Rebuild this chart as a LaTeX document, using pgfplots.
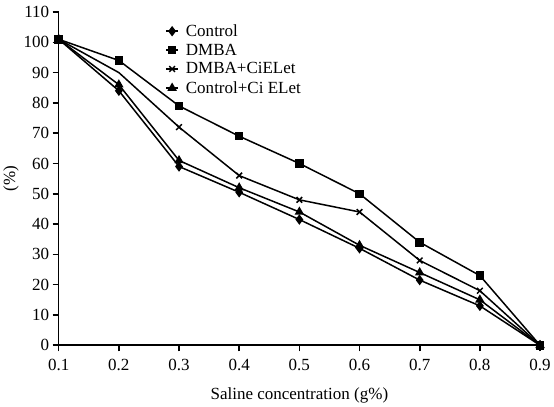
\documentclass[border=0pt]{standalone}
\usepackage{pgfplots}
\pgfplotsset{compat=1.18}
\usepackage{fontspec}
\setmainfont{Liberation Serif}
\begin{document}
\begin{tikzpicture}
\begin{axis}[
  scale only axis,
  width=481pt, height=333pt,
  xmin=0.1, xmax=0.9, ymin=0, ymax=110,
  xtick={0.1,0.2,...,0.9},
  ytick={0,10,...,110},
  xticklabel style={yshift=-4pt, /pgf/number format/fixed, /pgf/number format/fixed zerofill, /pgf/number format/precision=1},
  /pgf/number format/assume math mode=true,
  axis lines=left,
  axis line style={line width=1.6pt,-},
  tick style={line width=1.6pt,black},
  tick align=outside,
  major tick length=6pt,
  clip=false,
  font=\fontsize{17}{20}\selectfont,
  tick label style={font=\fontsize{17}{20}\selectfont},
  xlabel={Saline concentration (g\%)},
  ylabel={(\%)},
  xlabel style={font=\fontsize{17}{20}\selectfont, yshift=-10pt},
  ylabel style={font=\fontsize{17}{20}\selectfont, yshift=-2pt},
  every axis plot/.append style={line width=1.5pt, black},
  legend style={draw=none, fill=none, at={(0.215,0.975)}, anchor=north west,
    font=\fontsize{17}{20}\selectfont, row sep=2pt, column sep=5pt},
  legend cell align=left,
  legend image code/.code={\draw[line width=1.5pt] (-6pt,0pt)--(6pt,0pt); \draw[#1] plot coordinates {(0pt,0pt)};},
]
\addplot[mark=diamond*, mark size=4pt] coordinates {
(0.1,101) (0.2,84) (0.3,59) (0.4,50.5) (0.5,41.5) (0.6,32) (0.7,21.5) (0.8,13) (0.9,0)};
\addlegendentry{Control}
\addplot[mark=square*, mark size=3.5pt] coordinates {
(0.1,101) (0.2,94) (0.3,79) (0.4,69) (0.5,60) (0.6,50) (0.7,34) (0.8,23) (0.9,0)};
\addlegendentry{DMBA}
\addplot[mark=x, mark size=4pt, mark options={line width=1.5pt}, mark indices={1,3,4,5,6,7,8,9}] coordinates {
(0.1,101) (0.2,90) (0.3,72) (0.4,56) (0.5,48) (0.6,44) (0.7,28) (0.8,18) (0.9,0)};
\addlegendentry{DMBA+CiELet}
\addplot[mark=triangle*, mark size=4pt] coordinates {
(0.1,101) (0.2,86) (0.3,61) (0.4,52) (0.5,44) (0.6,33) (0.7,24) (0.8,15) (0.9,0)};
\addlegendentry{Control+Ci ELet}
\end{axis}
\path ([yshift=12pt]current axis.north) coordinate (topspace);
\end{tikzpicture}
\end{document}
